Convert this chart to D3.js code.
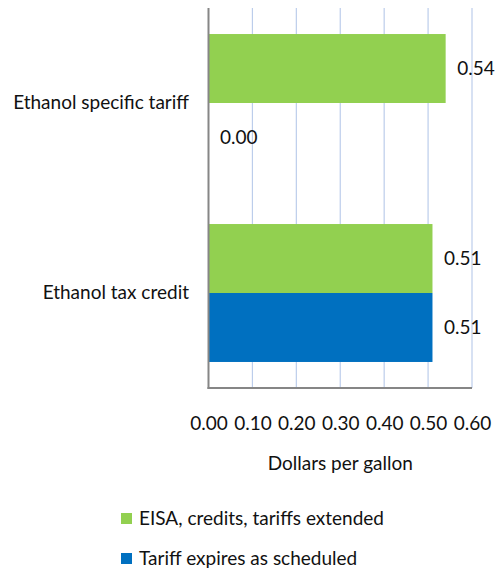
<!DOCTYPE html>
<html><head><meta charset="utf-8">
<script src="https://cdn.jsdelivr.net/npm/d3@7"></script>
<style>body{margin:0;background:#fff;} svg{display:block;font-family:Lato, "Open Sans", sans-serif;}</style>
</head><body>
<svg id="c" width="497" height="572"></svg>
<script>
const categories = ["Ethanol specific tariff", "Ethanol tax credit"];
const seriesNames = ["EISA, credits, tariffs extended", "Tariff expires as scheduled"];
const eisaValues = [0.54, 0.51];
const expiresValues = [0.00, 0.51];
const tickValues = [0, 0.1, 0.2, 0.3, 0.4, 0.5, 0.6];
const colors = ["#92D050", "#0070C0"];

const svg = d3.select("#c");
const m = {left: 208.5, right: 472, top: 8, bottom: 388};
const x = d3.scaleLinear().domain([0, 0.6]).range([m.left, m.right]);
const y = d3.scaleBand().domain(categories).range([m.top, m.bottom]).paddingInner(0.274).paddingOuter(0.137);
const y1 = d3.scaleBand().domain(seriesNames).range([0, y.bandwidth()]);
const FS = 19;

// gridlines
svg.append("g").selectAll("line").data(tickValues.slice(1)).join("line")
  .attr("x1", d => x(d)).attr("x2", d => x(d))
  .attr("y1", m.top).attr("y2", m.bottom)
  .attr("stroke", "#BCCDEB").attr("stroke-width", 1.2);

const data = [];
categories.forEach((c, i) => {
  data.push({cat: c, s: seriesNames[0], v: eisaValues[i], col: colors[0]});
  data.push({cat: c, s: seriesNames[1], v: expiresValues[i], col: colors[1]});
});

svg.append("g").selectAll("rect").data(data).join("rect")
  .attr("x", x(0)).attr("width", d => x(d.v) - x(0))
  .attr("y", d => y(d.cat) + y1(d.s)).attr("height", y1.bandwidth())
  .attr("fill", d => d.col);

svg.append("g").selectAll("text").data(data).join("text")
  .attr("x", d => x(d.v) + 11.5)
  .attr("y", d => y(d.cat) + y1(d.s) + y1.bandwidth() / 2)
  .attr("dy", "0.35em").attr("font-size", FS).attr("fill", "#111")
  .text(d => d3.format(".2f")(d.v));

// axes lines
svg.append("line").attr("x1", m.left).attr("x2", m.left).attr("y1", m.top).attr("y2", m.bottom + 1)
  .attr("stroke", "#868686").attr("stroke-width", 2);
svg.append("line").attr("x1", m.left - 1).attr("x2", m.right).attr("y1", m.bottom).attr("y2", m.bottom)
  .attr("stroke", "#868686").attr("stroke-width", 2);

// x tick labels
const xAxis = d3.axisBottom(x).tickValues(tickValues).tickFormat(d3.format(".2f")).tickSize(0).tickPadding(0);
const gx = svg.append("g").attr("transform", `translate(0,${m.bottom + 28})`).call(xAxis);
gx.select(".domain").remove();
gx.selectAll("text").attr("font-size", FS).attr("font-family", "Lato").attr("fill", "#111");

// y category labels
const yAxis = d3.axisLeft(y).tickSize(0).tickPadding(0);
const gy = svg.append("g").attr("transform", `translate(189,0)`).call(yAxis);
gy.select(".domain").remove();
gy.selectAll("text").attr("font-size", FS).attr("font-family", "Lato").attr("fill", "#111");

// axis title
svg.append("text").attr("x", x(0.3)).attr("y", 470).attr("text-anchor", "middle")
  .attr("font-size", FS).attr("fill", "#111").text("Dollars per gallon");

// legend
const lg = svg.append("g").selectAll("g").data(seriesNames).join("g")
  .attr("transform", (d, i) => `translate(121,${513 + i * 40})`);
lg.append("rect").attr("width", 11).attr("height", 11).attr("fill", (d, i) => colors[i]);
lg.append("text").attr("x", 18).attr("y", 5.5).attr("dy", "0.35em").attr("font-size", FS).attr("fill", "#111").text(d => d);
</script>
</body></html>
